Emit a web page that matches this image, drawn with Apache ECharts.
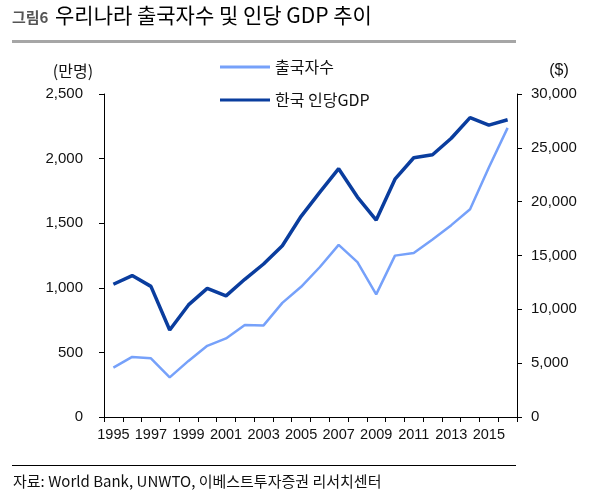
<!DOCTYPE html>
<html><head><meta charset="utf-8">
<script src="https://cdn.jsdelivr.net/npm/echarts@6/dist/echarts.min.js"></script>
<style>html,body{margin:0;padding:0;background:#fff}#c{width:603px;height:502px}</style>
</head><body><div id="c"></div>
<script>
const years = ['1995','1996','1997','1998','1999','2000','2001','2002','2003','2004','2005','2006','2007','2008','2009','2010','2011','2012','2013','2014','2015','2016'];
const departures = [382,465,454,307,434,551,608,712,709,883,1008,1161,1332,1199,949,1249,1269,1374,1485,1608,1931,2238];
const gdpPerCapita = [12333,13138,12131,8085,10409,11948,11253,12789,14209,15908,18640,20888,23061,20431,18291,22087,24080,24359,25890,27811,27105,27608];
const leftTicks = [0,500,1000,1500,2000,2500];
const rightTicks = [0,5000,10000,15000,20000,25000,30000];

const numFont = '"Liberation Sans",Arial,sans-serif';
const krFont = '"Noto Sans CJK KR","Noto Sans",sans-serif';
const chart = echarts.init(document.getElementById('c'));
const fmt = v => v.toLocaleString('en-US');
chart.setOption({
  animation:false,
  backgroundColor:'#fff',
  grid:{left:104,right:86,top:94,bottom:85},
  legend:{
    orient:'vertical', left:220, top:59, padding:0, itemWidth:50, itemHeight:3, itemGap:17,
    textStyle:{fontFamily:krFont,fontSize:16,color:'#111'},
    data:[{name:'출국자수',icon:'rect'},{name:'한국 인당GDP',icon:'rect'}]
  },
  xAxis:{
    type:'category', data:years, boundaryGap:true,
    axisLine:{lineStyle:{color:'#000',width:1}},
    axisTick:{show:true,interval:0,length:5,lineStyle:{color:'#000'}},
    axisLabel:{interval:1,hideOverlap:false,color:'#111',fontFamily:numFont,fontSize:14.5,margin:10}
  },
  yAxis:[
    {type:'value',min:leftTicks[0],max:leftTicks[leftTicks.length-1],interval:500,
     splitLine:{show:false},
     axisLine:{show:true,lineStyle:{color:'#000'}},
     axisTick:{show:true,length:5,lineStyle:{color:'#000'}},
     axisLabel:{formatter:fmt,color:'#111',fontFamily:numFont,fontSize:15,margin:21}},
    {type:'value',min:rightTicks[0],max:rightTicks[rightTicks.length-1],interval:5000,
     splitLine:{show:false},
     axisLine:{show:true,lineStyle:{color:'#000'}},
     axisTick:{show:true,length:5,lineStyle:{color:'#000'}},
     axisLabel:{formatter:fmt,color:'#111',fontFamily:numFont,fontSize:15,margin:14}}
  ],
  series:[
    {name:'출국자수',type:'line',data:departures,yAxisIndex:0,symbol:'none',
     lineStyle:{color:'#76a1fa',width:2.5},itemStyle:{color:'#76a1fa'}},
    {name:'한국 인당GDP',type:'line',data:gdpPerCapita,yAxisIndex:1,symbol:'none',
     lineStyle:{color:'#0a3d9e',width:3.5},itemStyle:{color:'#0a3d9e'}}
  ],
  graphic:[
    {type:'text',left:12,top:10,style:{text:'그림6',fontFamily:krFont,fontSize:15,fontWeight:'bold',fill:'#555'}},
    {type:'text',left:55,top:5,style:{text:'우리나라 출국자수 및 인당 GDP 추이',fontFamily:krFont,fontSize:21,fill:'#000'}},
    {type:'rect',shape:{x:12,y:40,width:504,height:3},style:{fill:'#a6a6a6'}},
    {type:'text',x:73,y:71,style:{text:'(만명)',fontFamily:krFont,fontSize:16,fill:'#111',align:'center',verticalAlign:'middle'}},
    {type:'text',x:559,y:71,style:{text:'($)',fontFamily:numFont,fontSize:16,fill:'#111',align:'center',verticalAlign:'middle'}},
    {type:'rect',shape:{x:12,y:465,width:504,height:1},style:{fill:'#000'}},
    {type:'text',left:13,top:474,style:{text:'자료: World Bank, UNWTO, 이베스트투자증권 리서치센터',fontFamily:krFont,fontSize:15,fill:'#111'}}
  ]
});
</script></body></html>
